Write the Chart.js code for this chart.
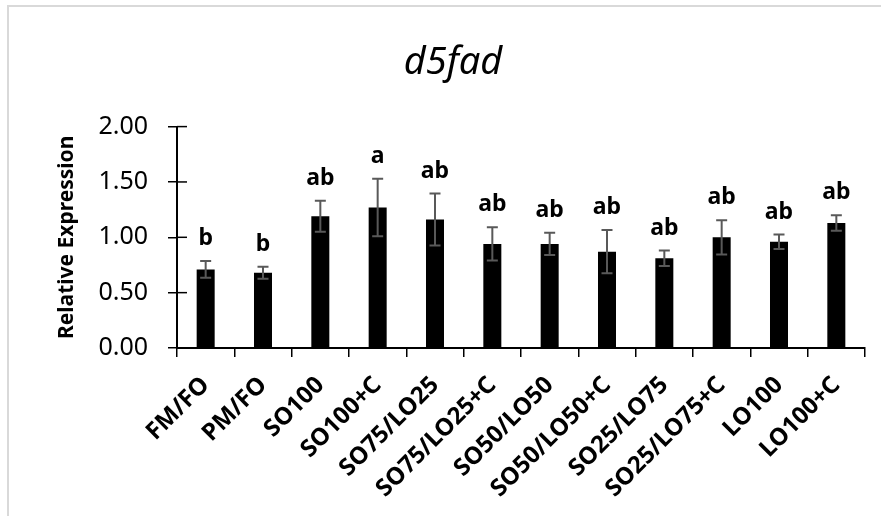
<!DOCTYPE html>
<html>
<head>
<meta charset="utf-8">
<script src="https://cdn.jsdelivr.net/npm/chart.js@4.4.1/dist/chart.umd.min.js"></script>
<style>
  html, body { margin: 0; padding: 0; background: #fff; }
  #wrap { width: 881px; height: 516px; position: relative; }
</style>
</head>
<body>
<div id="wrap"><canvas id="chart"></canvas></div>
<script>
const categories = ['FM/FO', 'PM/FO', 'SO100', 'SO100+C', 'SO75/LO25', 'SO75/LO25+C',
  'SO50/LO50', 'SO50/LO50+C', 'SO25/LO75', 'SO25/LO75+C', 'LO100', 'LO100+C'];
const means = [0.71, 0.68, 1.19, 1.27, 1.16, 0.94, 0.94, 0.87, 0.81, 1.00, 0.96, 1.13];
const errors = [0.075, 0.055, 0.14, 0.26, 0.235, 0.15, 0.10, 0.195, 0.07, 0.155, 0.065, 0.07];
const letters = ['b', 'b', 'ab', 'a', 'ab', 'ab', 'ab', 'ab', 'ab', 'ab', 'ab', 'ab'];
const yTicks = [0, 0.5, 1, 1.5, 2];

const FONT = "'Noto Sans', 'Open Sans', sans-serif";

// error bars, letters, inner y ticks, frame
const extras = {
  id: 'extras',
  beforeDraw(chart) {
    const ctx = chart.ctx;
    ctx.save();
    ctx.strokeStyle = '#d9d9d9';
    ctx.lineWidth = 2;
    ctx.strokeRect(8, 6, 900, 600);
    ctx.restore();
  },
  afterDraw(chart) {
    const ctx = chart.ctx;
    const y = chart.scales.y;
    const meta = chart.getDatasetMeta(0);
    ctx.save();

    // inner half of the cross ticks on the y axis
    ctx.strokeStyle = '#000';
    ctx.lineWidth = 1.5;
    y.ticks.forEach(t => {
      const py = y.getPixelForValue(t.value);
      ctx.beginPath();
      ctx.moveTo(chart.chartArea.left, py);
      ctx.lineTo(chart.chartArea.left + 10, py);
      ctx.stroke();
    });

    meta.data.forEach((bar, i) => {
      const top = y.getPixelForValue(means[i] + errors[i]);
      const bot = y.getPixelForValue(means[i] - errors[i]);
      ctx.strokeStyle = '#595959';
      ctx.lineWidth = 2;
      ctx.beginPath();
      ctx.moveTo(bar.x, top); ctx.lineTo(bar.x, bot);
      ctx.moveTo(bar.x - 5.5, top); ctx.lineTo(bar.x + 5.5, top);
      ctx.moveTo(bar.x - 5.5, bot); ctx.lineTo(bar.x + 5.5, bot);
      ctx.stroke();

      ctx.fillStyle = '#000';
      ctx.font = 'bold 23px ' + FONT;
      ctx.textAlign = 'center';
      ctx.textBaseline = 'alphabetic';
      ctx.fillText(letters[i], bar.x, top - 16);
    });
    ctx.restore();
  }
};

new Chart(document.getElementById('chart'), {
  type: 'bar',
  data: {
    labels: categories,
    datasets: [{
      data: means,
      backgroundColor: '#000',
      borderWidth: 0,
      barPercentage: 0.314,
      categoryPercentage: 1
    }]
  },
  options: {
    responsive: true,
    maintainAspectRatio: false,
    animation: false,
    layout: { padding: { left: 41, right: 16, top: 0, bottom: 0 } },
    plugins: {
      legend: { display: false },
      tooltip: { enabled: false },
      title: {
        display: true,
        text: 'd5fad',
        color: '#000',
        font: { family: FONT, size: 38, style: 'italic', weight: 'normal', lineHeight: 1.2 },
        padding: { top: 40, bottom: 41 }
      }
    },
    scales: {
      x: {
        afterFit(s) { s.height = 168; },
        grid: { display: true, drawOnChartArea: false, drawTicks: true, tickLength: 9, color: '#000', lineWidth: 1.5 },
        border: { display: true, color: '#000', width: 2 },
        ticks: {
          color: '#000',
          font: { family: FONT, size: 24, weight: 'bold' },
          minRotation: 45, maxRotation: 45,
          padding: 14,
          autoSkip: false
        }
      },
      y: {
        min: 0, max: 2,
        afterFit(s) { s.width = 136; },
        afterBuildTicks(s) { s.ticks = yTicks.map(v => ({ value: v })); },
        grid: { display: true, drawOnChartArea: false, drawTicks: true, tickLength: 9, color: '#000', lineWidth: 1.5 },
        border: { display: true, color: '#000', width: 2 },
        ticks: {
          color: '#000',
          font: { family: FONT, size: 25 },
          padding: 20,
          callback: v => Number(v).toFixed(2)
        },
        title: {
          display: true,
          text: 'Relative Expression',
          color: '#000',
          font: { family: FONT, size: 21, weight: 'bold', lineHeight: 1.2 },
          padding: { top: 13, bottom: 0 }
        }
      }
    }
  },
  plugins: [extras]
});
</script>
</body>
</html>
